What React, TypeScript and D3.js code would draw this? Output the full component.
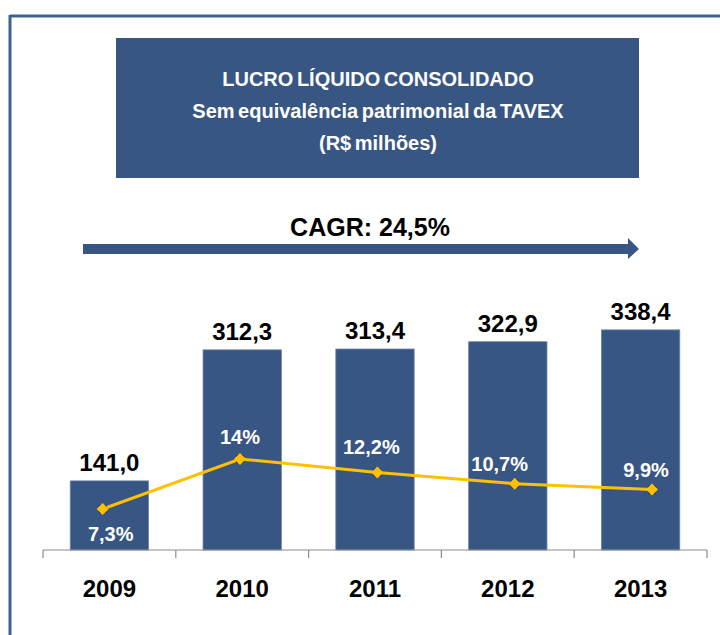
import React from 'react'
import * as d3 from 'd3'

// data
const years = ['2009', '2010', '2011', '2012', '2013']
const lucro = [141.0, 312.3, 313.4, 322.9, 338.4]
const margem = [7.3, 14, 12.2, 10.7, 9.9]
const margemLabels = ['7,3%', '14%', '12,2%', '10,7%', '9,9%']
const titleLines = ['LUCRO LÍQUIDO CONSOLIDADO', 'Sem equivalência patrimonial da TAVEX', '(R$ milhões)']
const cagrLabel = 'CAGR: 24,5%'

// layout for the margin labels (dx, dy from the point)
const labelOffsets: [number, number][] = [[8, 32], [0, -15], [-6, -18], [-15, -13], [-6, -13]]

const BLUE = '#385683'
const YELLOW = '#FFC000'
const FONT = '"Liberation Sans", Arial, sans-serif'

const fmt = (v: number) => v.toFixed(1).replace('.', ',')

export default function App() {
  const width = 720
  const height = 635
  const baseY = 550

  const x = d3.scaleBand<string>().domain(years).range([43, 707]).paddingInner(0.41).paddingOuter(0.205)
  const y = d3.scaleLinear().domain([50, 400]).range([550.5, 282.75])
  // secondary axis for the margin line
  const xp = d3.scalePoint<string>().domain(years).range([102.7, 652])
  const yp = d3.scaleLinear().domain([0, 14]).range([563.5, 459])

  const line = d3.line<number>()
    .x((_, i) => xp(years[i]) as number)
    .y(d => yp(d))

  const ticks = [...years.map(d => x(d)! - x.step() * x.paddingInner() / 2), 707]
  ticks[0] = 43

  // square diamond marker
  const diamond = 'M0,-6 L6,0 L0,6 L-6,0 Z'

  return (
    <svg width={width} height={height} style={{ position: 'absolute', left: 0, top: 0, background: '#fff' }} fontFamily={FONT}>
      {/* frame */}
      <line x1={10} x2={720} y1={16} y2={16} stroke="#3E6192" strokeWidth={3} />
      <line x1={10} x2={10} y1={15} y2={635} stroke="#3E6192" strokeWidth={3} />

      {/* title box */}
      <rect x={116} y={38} width={523} height={140} fill={BLUE} />
      {titleLines.map((t, i) => (
        <text key={i} x={378} y={86 + i * 32} textAnchor="middle" fill="#fff" fontWeight="bold" fontSize={20}
          wordSpacing={-2}>{t}</text>
      ))}

      {/* CAGR arrow */}
      <text x={370} y={236} textAnchor="middle" fontWeight="bold" fontSize={25} fill="#000">{cagrLabel}</text>
      <path d="M83,244 L628,244 L628,238 L639,249 L628,259 L628,254 L83,254 Z" fill={BLUE} />

      {/* bars */}
      {years.map((yr, i) => (
        <g key={yr}>
          <rect x={x(yr)} y={y(lucro[i])} width={x.bandwidth()} height={baseY - y(lucro[i])}
            fill={BLUE} stroke="#6f86ab" strokeWidth={0.8} />
          <text x={x(yr)! + x.bandwidth() / 2} y={y(lucro[i]) - 10} textAnchor="middle"
            fontWeight="bold" fontSize={24} fill="#000">{fmt(lucro[i])}</text>
        </g>
      ))}

      {/* axis */}
      <line x1={43} x2={707} y1={baseY} y2={baseY} stroke="#8c8c8c" strokeWidth={1.2} />
      {ticks.map((t, i) => (
        <line key={i} x1={t} x2={t} y1={baseY} y2={baseY + 8} stroke="#8c8c8c" strokeWidth={1.2} />
      ))}
      {years.map(yr => (
        <text key={yr} x={x(yr)! + x.bandwidth() / 2} y={597} textAnchor="middle"
          fontWeight="bold" fontSize={24} fill="#000">{yr}</text>
      ))}

      {/* margin line */}
      <path d={line(margem) ?? ''} fill="none" stroke={YELLOW} strokeWidth={3} />
      {margem.map((m, i) => {
        const px = xp(years[i]) as number
        const py = yp(m)
        return (
          <g key={i}>
            <rect x={px - 4} y={py - 4} width={8} height={8} fill="#2b2f8a" />
            <path d={diamond} transform={`translate(${px},${py})`} fill={YELLOW} />
            <text x={px + labelOffsets[i][0]} y={py + labelOffsets[i][1]} textAnchor="middle"
              fontWeight="bold" fontSize={20} fill="#fff">{margemLabels[i]}</text>
          </g>
        )
      })}
    </svg>
  )
}
